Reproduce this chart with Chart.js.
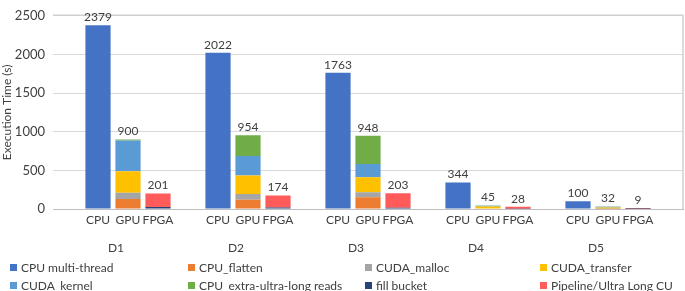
<!DOCTYPE html>
<html>
<head>
<meta charset="utf-8">
<script src="https://cdn.jsdelivr.net/npm/chart.js@4/dist/chart.umd.min.js"></script>
<style>
html,body{margin:0;padding:0;background:#fff;}
#wrap{width:685px;height:291px;position:relative;}
</style>
</head>
<body>
<div id="wrap"><canvas id="c" width="685" height="291"></canvas></div>
<script>
// ---- data ----
const groups = ['D1', 'D2', 'D3', 'D4', 'D5'];
const devices = ['CPU', 'GPU', 'FPGA'];
const yTicks = [0, 500, 1000, 1500, 2000, 2500];

// CPU bars
const cpuMultiThread = [2379, 2022, 1763, 344, 100];
// GPU bars
const cpuFlatten = [130, 119, 152, 5, 4];
const cudaMalloc = [80, 74, 66, 3, 2];
const cudaTransfer = [280, 242, 193, 25, 14];
const cudaKernel = [395, 250, 172, 10, 10];
const cpuExtraUltraLong = [15, 269, 365, 2, 2];
// FPGA bars
const fillBucket = [25, 18, 16, 2, 1];
const pipelineUltraLong = [176, 156, 187, 26, 8];

const seriesNames = ['CPU multi-thread', 'CPU_flatten', 'CUDA_malloc', 'CUDA_transfer',
  'CUDA_kernel', 'CPU_extra-ultra-long reads', 'fill bucket', 'Pipeline/Ultra Long CU'];
const seriesColors = ['#4472C4', '#ED7D31', '#A5A5A5', '#FFC000',
  '#5B9BD5', '#70AD47', '#264478', '#FF5B5B'];
const seriesDevice = [0, 1, 1, 1, 1, 1, 2, 2];
const seriesValues = [cpuMultiThread, cpuFlatten, cudaMalloc, cudaTransfer,
  cudaKernel, cpuExtraUltraLong, fillBucket, pipelineUltraLong];

// slots: blank, CPU, GPU, FPGA per group, plus trailing blank
const labels = [];
groups.forEach(() => { labels.push(''); devices.forEach(d => labels.push(d)); });
labels.push('');

const datasets = seriesNames.map((name, i) => {
  const data = labels.map(() => null);
  seriesValues[i].forEach((v, g) => { data[4 * g + 1 + seriesDevice[i]] = v; });
  return {
    label: name, data: data, backgroundColor: seriesColors[i],
    borderWidth: 0, barPercentage: 0.84, categoryPercentage: 1.0
  };
});

const FONT = 'Lato, "Open Sans", sans-serif';

const extras = {
  id: 'extras',
  afterDatasetsDraw(chart) {
    const ctx = chart.ctx, xs = chart.scales.x, ys = chart.scales.y, ca = chart.chartArea;
    ctx.save();
    // plot border top & right
    ctx.strokeStyle = '#d0d0d0'; ctx.lineWidth = 1.5;
    ctx.beginPath();
    ctx.moveTo(ca.left, ca.top - 0.5); ctx.lineTo(ca.right, ca.top - 0.5); ctx.lineTo(ca.right, ca.bottom);
    ctx.stroke();
    // totals
    ctx.fillStyle = '#404040';
    ctx.font = '12px ' + FONT;
    ctx.textAlign = 'center'; ctx.textBaseline = 'bottom';
    labels.forEach((lab, s) => {
      if (!lab) return;
      let sum = 0;
      chart.data.datasets.forEach(ds => { if (ds.data[s] != null) sum += ds.data[s]; });
      ctx.fillText(String(sum), xs.getPixelForValue(s), ys.getPixelForValue(sum) - 2);
    });
    // group labels
    ctx.font = '12px ' + FONT;
    ctx.textBaseline = 'middle';
    groups.forEach((g, i) => {
      ctx.fillText(g, xs.getPixelForValue(4 * i + 1.6), 248);
    });
    // legend
    const colX = [10, 188, 365, 540];
    const rowY = [268, 286];
    ctx.textAlign = 'left';
    ctx.font = '12px ' + FONT;
    chart.data.datasets.forEach((ds, i) => {
      const x = colX[i % 4], y = rowY[Math.floor(i / 4)];
      ctx.fillStyle = ds.backgroundColor;
      ctx.fillRect(x, y - 4, 7, 7);
      ctx.fillStyle = '#404040';
      ctx.fillText(ds.label, x + 11, y);
    });
    ctx.restore();
  }
};

new Chart(document.getElementById('c'), {
  type: 'bar',
  data: { labels: labels, datasets: datasets },
  options: {
    responsive: false, animation: false,
    layout: { padding: { left: 0, right: 2, top: 6, bottom: 0 } },
    plugins: { legend: { display: false }, tooltip: { enabled: false } },
    scales: {
      x: {
        stacked: true,
        grid: { display: false, drawTicks: false },
        border: { color: '#bfbfbf' },
        ticks: { color: '#404040', font: { family: FONT, size: 12 }, padding: 4, autoSkip: false, maxRotation: 0 },
        afterFit(scale) { scale.height = 82; }
      },
      y: {
        stacked: true, min: 0, max: 2500,
        afterBuildTicks(scale) { scale.ticks = yTicks.map(v => ({ value: v })); },
        grid: { color: '#d9d9d9', drawTicks: false },
        border: { display: false },
        ticks: { color: '#404040', font: { family: FONT, size: 13 }, padding: 8, callback: v => String(v) },
        title: { display: true, text: 'Execution Time (s)', color: '#404040', font: { family: FONT, size: 12 }, padding: { top: 0, bottom: 0 } },
        afterFit(scale) { scale.width = 53; }
      }
    }
  },
  plugins: [extras]
});
</script>
</body>
</html>
